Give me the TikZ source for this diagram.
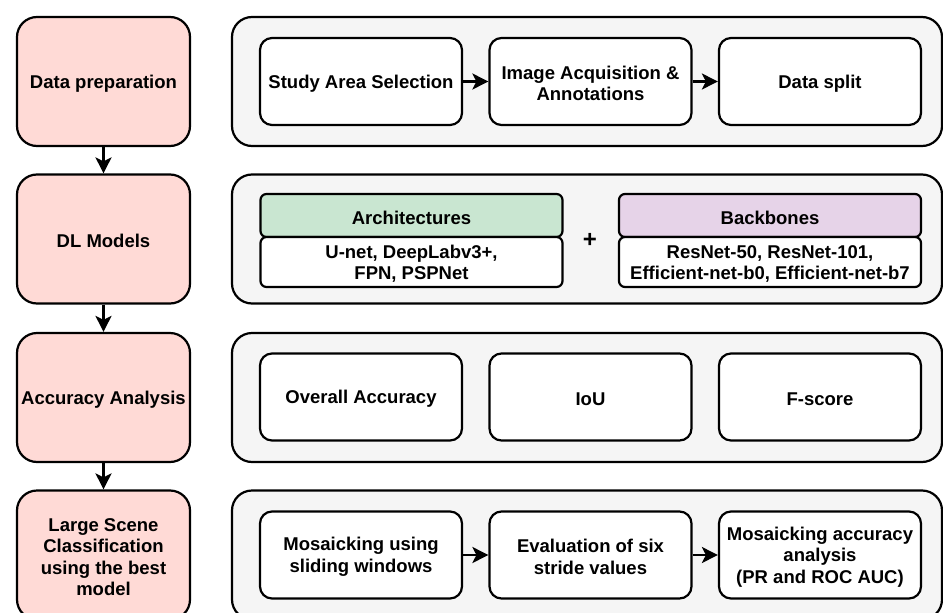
\documentclass[tikz,border=0pt]{standalone}
\usepackage{fontspec}
\setmainfont{Liberation Sans}
\usetikzlibrary{arrows.meta}

\definecolor{stagepink}{HTML}{FFDAD6}
\definecolor{panelgray}{HTML}{F5F5F5}
\definecolor{archgreen}{HTML}{C9E6D1}
\definecolor{bonepurple}{HTML}{E6D3E8}

\newcommand{\topstrut}{\rule{0pt}{17.3pt}} % <- pushes text down a bit

\begin{document}
\begin{tikzpicture}[x=1pt, y=-1pt,
	every node/.style={font=\bfseries\fontsize{18.5}{21.5}\selectfont, align=center},
	stage/.style={draw, line width=2.2pt, fill=stagepink, rounded corners=20pt,
		minimum width=173pt, minimum height=129pt},
	panel/.style={draw, line width=2.2pt, fill=panelgray, rounded corners=20pt,
		minimum width=710pt, minimum height=129pt},
	task/.style={draw, line width=2.2pt, fill=white, rounded corners=12pt,
		minimum width=202pt, minimum height=87pt},
	head/.style={draw, line width=2.2pt, rounded corners=6pt,
		minimum width=302pt, minimum height=43pt},
	body/.style={draw, line width=2.2pt, fill=white, rounded corners=6pt,
		minimum width=302pt, minimum height=50pt},
	flow/.style={-{Stealth[length=16pt, width=16pt, inset=4pt]}, line width=2.2pt}]

	\clip (0,0) rectangle (943,613); % <- last row runs off the page

	% stages on the left
	\node[stage] (prep) at (103.5,81.5) {\topstrut Data preparation};
	\node[stage] (dlm)  at (103.5,239)  {\topstrut DL Models};
	\node[stage] (acc)  at (103.5,397.5) {\topstrut Accuracy Analysis};
	\node[stage] (lsc)  at (103.5,555)  {\topstrut Large Scene\\Classification\\using the best\\model};

	% grey panels
	\node[panel] (p1) at (587,81.5)  {};
	\node[panel] (p2) at (587,239)   {};
	\node[panel] (p3) at (587,397.5) {};
	\node[panel] (p4) at (587,555)   {};

	% row 1
	\node[task] (study) at (361,81.5)   {\topstrut Study Area Selection};
	\node[task] (acq)   at (590.5,81.5) {\topstrut Image Acquisition \&\\Annotations};
	\node[task] (split) at (820,81.5)   {\topstrut Data split};

	% row 2
	\node[head, fill=archgreen]  (archhead) at (411.5,215.5) {\topstrut Architectures};
	\node[body]                  (archbody) at (411.5,262)   {\topstrut U-net, DeepLabv3+,\\FPN, PSPNet};
	\node[font=\bfseries\fontsize{24}{24}\selectfont] (plus) at (590,240) {+};
	\node[head, fill=bonepurple] (bonehead) at (770,215.5)   {\topstrut Backbones};
	\node[body]                  (bonebody) at (770,262)     {\topstrut ResNet-50, ResNet-101,\\Efficient-net-b0, Efficient-net-b7};

	% row 3
	\node[task] (oa)  at (361,397)   {\topstrut Overall Accuracy};
	\node[task] (iou) at (590.5,397) {\topstrut IoU};
	\node[task] (fs)  at (820,397)   {\topstrut F-score};

	% row 4
	\node[task] (mosaic) at (361,555)   {\topstrut Mosaicking using\\sliding windows};
	\node[task] (stride) at (590.5,555) {\topstrut Evaluation of six\\stride values};
	\node[task] (mosacc) at (820,555)   {\topstrut Mosaicking accuracy\\analysis\\(PR and ROC AUC)};

	% arrows
	\draw[flow] (prep) -- (dlm);
	\draw[flow] (dlm) -- (acc);
	\draw[flow] (acc) -- (lsc);
	\draw[flow] (study) -- (acq);
	\draw[flow] (acq) -- (split);
	\draw[flow] (mosaic) -- (stride);
	\draw[flow] (stride) -- (mosacc);

\end{tikzpicture}
\end{document}
